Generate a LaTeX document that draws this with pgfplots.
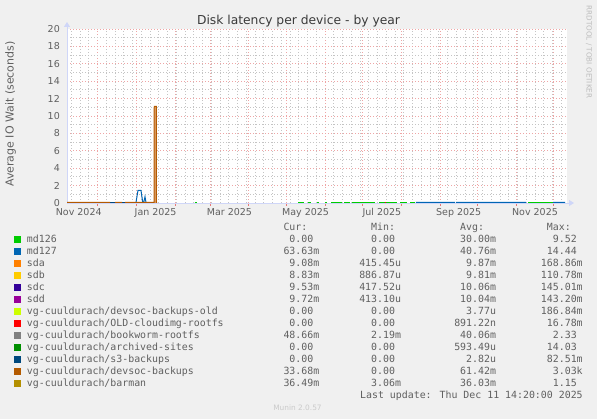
\documentclass[border=0pt]{standalone}
\usepackage{fontspec}
\setmainfont{DejaVu Sans}
\newfontfamily\legmono{DejaVu Sans Mono}
\usepackage{pgfplots}
\pgfplotsset{compat=1.18}
\usetikzlibrary{arrows.meta}

\definecolor{bgc}{HTML}{F0F0F0}
\definecolor{txt}{HTML}{606060}
\definecolor{ttl}{HTML}{3A3A3A}
\definecolor{axc}{HTML}{CFD6F8}
\definecolor{mgridc}{RGB}{238,165,165}
\definecolor{gridc}{RGB}{196,196,196}
\definecolor{tickc}{RGB}{230,120,120}
\definecolor{wmark}{HTML}{BDBDBD}
% munin palette
\definecolor{c126}{HTML}{00CC00}
\definecolor{c127}{HTML}{0066B3}
\definecolor{csda}{HTML}{FF8000}
\definecolor{csdb}{HTML}{FFCC00}
\definecolor{csdc}{HTML}{330099}
\definecolor{csdd}{HTML}{990099}
\definecolor{cold}{HTML}{CCFF00}
\definecolor{ccloud}{HTML}{FF0000}
\definecolor{cbook}{HTML}{808080}
\definecolor{carch}{HTML}{008F00}
\definecolor{cs3}{HTML}{00487D}
\definecolor{cdevsoc}{HTML}{B35A00}
\definecolor{cbarman}{HTML}{B38F00}
\definecolor{spikefill}{RGB}{222,160,105}

\newcommand\s{\phantom{0}}
\newcommand\lrow[5]{\makebox[236pt][l]{#1}\makebox[56.3pt][r]{#2}\makebox[81.7pt][r]{#3}\makebox[95pt][r]{#4}\makebox[86.7pt][r]{#5}}

\begin{document}
\begin{tikzpicture}
\fill[bgc] (0,0) rectangle (597pt,419pt);
\begin{axis}[
    at={(67pt,216pt)}, anchor=south west,
    width=500pt, height=174pt, scale only axis,
    xmin=5.6, xmax=405.6, ymin=0, ymax=20,
    axis lines=left,
    axis background/.style={fill=white},
    x axis line style={draw=axc, line width=0.8pt, -{Triangle[length=5pt,width=6pt]}, shorten >=-7pt},
    y axis line style={draw=axc, line width=0.8pt, -{Triangle[length=5pt,width=6pt]}, shorten >=-7pt},
    unbounded coords=jump,
    clip mode=individual,
    % month starts (days since 1 Nov 2024)
    xtick={30,61,92,120,151,181,212,242,273,304,334,365,395},
    xticklabels={},
    minor xtick={9,16,...,404},
    ytick={0,2,...,20},
    minor ytick={1,3,...,19},
    grid=both,
    major grid style={draw=mgridc, line width=0.8pt, dash pattern=on 1pt off 2pt},
    minor grid style={draw=gridc, line width=0.8pt, dash pattern=on 1pt off 2pt},
    tick align=outside,
    major tick length=3pt, minor tick length=0pt,
    xtick style={draw=tickc, line width=0.8pt},
    ytick style={draw=none},
    extra x ticks={15,76.5,135.5,196.5,257.5,319,380},
    extra x tick labels={Nov 2024,Jan 2025,Mar 2025,May 2025,Jul 2025,Sep 2025,Nov 2025},
    extra x tick style={grid=none, major tick length=0pt,
        xticklabel style={anchor=north, inner sep=0pt, yshift=-5.3pt}},
    /pgf/number format/assume math mode=true,
    ticklabel style={font=\fontsize{9.5}{10}\selectfont, text=txt},
    yticklabel style={anchor=east, inner sep=0pt, xshift=-4pt},
    title={Disk latency per device - by year},
    title style={at={(axis description cs:0.463,1)}, anchor=base, yshift=-1.5pt,
        font=\fontsize{12.3}{14}\selectfont, text=ttl},
    ylabel={Average IO Wait (seconds)},
    ylabel style={at={(axis description cs:-0.113,0.511)}, anchor=center,
        font=\fontsize{11}{13}\selectfont, text=txt},
    legend style={at={(axis description cs:0,0)}, anchor=north west,
        xshift=-53pt, yshift=-19.4pt, draw=none, fill=none,
        inner sep=0pt, outer sep=0pt, row sep=2pt, column sep=6pt,
        font=\legmono\fontsize{9.9}{12}\selectfont, text=txt,
        nodes={inner sep=0pt, text height=8.3pt, text depth=1.7pt}},
    legend cell align=left,
    legend image code/.code={\fill[#1] (0pt,-3pt) rectangle (6pt,3pt);},
]
\addlegendimage{empty legend}
\addlegendentry{\lrow{}{Cur:\s\s}{Min:\s}{Avg:\s\s}{Max:\s\s}}

% md126
\addplot[color=c126, line width=1pt] coordinates {
  (107.6,0.06) (109.2,0.06) (nan,nan)
  (190.4,0.06) (195.2,0.06) (nan,nan)
  (198.4,0.06) (200.8,0.06) (nan,nan)
  (205.6,0.06) (207.2,0.06) (nan,nan)
  (212.0,0.06) (213.6,0.06) (nan,nan)
  (216.8,0.06) (225.6,0.06) (nan,nan)
  (227.2,0.06) (232.0,0.06) (nan,nan)
  (233.6,0.06) (252.0,0.06) (nan,nan)
  (255.2,0.06) (260.0,0.06) (nan,nan)
  (260.8,0.06) (269.6,0.06) (nan,nan)
  (272.0,0.06) (277.6,0.06) (nan,nan)
  (280.0,0.06) (284.0,0.06) (nan,nan)
  (374.4,0.06) (394.4,0.06)
};
\addlegendentry{\lrow{md126}{0.00\s}{0.00\s}{30.00m}{9.52\s}}

% md127
\addplot[color=c127, line width=1pt] coordinates {
  (60.8,0.06) (62.4,1.45) (64.8,1.45) (66.2,0.06) (67.0,0.06)
  (68.0,0.72) (68.8,0.06) (nan,nan)
  (284.6,0.06) (316.0,0.06) (nan,nan)
  (316.8,0.06) (372.8,0.06) (nan,nan)
  (394.4,0.06) (404.0,0.06)
};
\addlegendentry{\lrow{md127}{63.63m}{0.00\s}{40.76m}{14.44\s}}

\addlegendimage{color=csda}
\addlegendentry{\lrow{sda}{9.08m}{415.45u}{9.87m}{168.86m}}
\addlegendimage{color=csdb}
\addlegendentry{\lrow{sdb}{8.83m}{886.87u}{9.81m}{110.78m}}
\addlegendimage{color=csdc}
\addlegendentry{\lrow{sdc}{9.53m}{417.52u}{10.06m}{145.01m}}
\addlegendimage{color=csdd}
\addlegendentry{\lrow{sdd}{9.72m}{413.10u}{10.04m}{143.20m}}
\addlegendimage{color=cold}
\addlegendentry{\lrow{vg-cuuldurach/devsoc-backups-old}{0.00\s}{0.00\s}{3.77u}{186.84m}}

% OLD-cloudimg-rootfs
\addplot[color=ccloud, line width=1pt] coordinates {(259.6,0.06) (260.6,0.06)};
\addlegendentry{\lrow{vg-cuuldurach/OLD-cloudimg-rootfs}{0.00\s}{0.00\s}{891.22n}{16.78m}}

\addlegendimage{color=cbook}
\addlegendentry{\lrow{vg-cuuldurach/bookworm-rootfs}{48.66m}{2.19m}{40.06m}{2.33\s}}
\addlegendimage{color=carch}
\addlegendentry{\lrow{vg-cuuldurach/archived-sites}{0.00\s}{0.00\s}{593.49u}{14.03\s}}

% s3-backups
\addplot[color=cs3, line width=1pt] coordinates {
  (40.0,0.06) (44.0,0.06) (nan,nan) (49.6,0.06) (52.0,0.06)
};
\addlegendentry{\lrow{vg-cuuldurach/s3-backups}{0.00\s}{0.00\s}{2.82u}{82.51m}}

% devsoc-backups spike body
\addplot[fill=spikefill, draw=none, forget plot] coordinates {
  (75.5,0) (75.5,11.1) (76.9,11.1) (76.9,0)
} -- cycle;
% devsoc-backups
\addplot[color=cdevsoc, line width=1pt] coordinates {
  (5.6,0.06) (40.0,0.06) (nan,nan)
  (44.0,0.06) (49.6,0.06) (nan,nan)
  (52.0,0.06) (75.3,0.06) (75.4,11.1) (77.0,11.1) (77.1,0.06) (77.6,0.06)
};
\addlegendentry{\lrow{vg-cuuldurach/devsoc-backups}{33.68m}{0.00\s}{61.42m}{3.03k}}

\addlegendimage{color=cbarman}
\addlegendentry{\lrow{vg-cuuldurach/barman}{36.49m}{3.06m}{36.03m}{1.15\s}}

\addlegendimage{empty legend}
\addlegendentry{\makebox[555.7pt][r]{Last update: Thu Dec 11 14:20:00 2025}}
\end{axis}
\node[rotate=-90, font=\fontsize{7.2}{8}\selectfont, text=wmark] at (589pt,367pt) {RRDTOOL / TOBI OETIKER};
\node[font=\fontsize{7.4}{8}\selectfont, text=wmark!80] at (297.5pt,11pt) {Munin 2.0.57};
\pgfresetboundingbox
\path[use as bounding box] (0,0) rectangle (597pt,419pt);
\end{tikzpicture}
\end{document}
